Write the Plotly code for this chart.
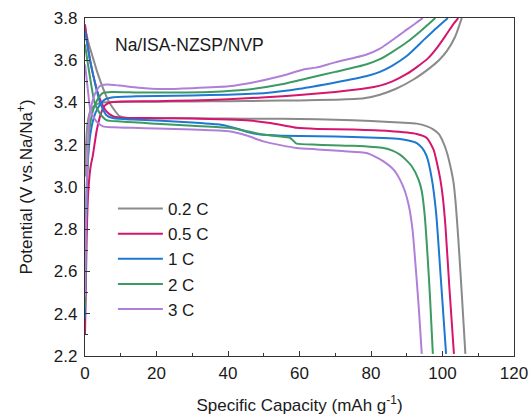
import plotly.graph_objects as go

rates = ["0.2 C", "0.5 C", "1 C", "2 C", "3 C"]
colors = ["#8a8a8a", "#d4166f", "#1e78d2", "#3d9a63", "#b080d8"]

# 0.2 C
c02_x = [0, 0.3, 0.7, 1.5, 3, 5, 8, 12, 20, 30, 40, 50, 60, 70, 78, 82.5, 87, 92, 96.5, 99, 101.2, 103.5, 105.4]
c02_y = [3.05, 3.2, 3.3, 3.36, 3.39, 3.40, 3.402, 3.403, 3.404, 3.405, 3.406, 3.408, 3.41, 3.413, 3.42, 3.437, 3.465, 3.51, 3.564, 3.60, 3.643, 3.71, 3.8]
d02_x = [0, 1, 2.25, 3.5, 5, 6.5, 7.8, 9.7, 12, 20, 30, 40, 50, 60, 70, 80, 88, 92.8, 95.5, 97.5, 99, 100.3, 101.3, 102.2, 103.1, 103.7, 104.4, 105.3, 106.4]
d02_y = [3.754, 3.68, 3.61, 3.54, 3.469, 3.41, 3.374, 3.335, 3.327, 3.326, 3.325, 3.324, 3.323, 3.322, 3.318, 3.313, 3.305, 3.30, 3.288, 3.272, 3.25, 3.208, 3.16, 3.098, 3.02, 2.92, 2.76, 2.52, 2.21]

# 0.5 C
c05_x = [0, 0.3, 0.6, 1.0, 1.6, 2.2, 3.3, 4.5, 5.5, 7, 10, 20, 30, 40, 50.6, 60, 70, 78.6, 82.5, 86, 90, 93, 96, 98.5, 101, 103, 104.4]
c05_y = [2.30, 2.6, 2.85, 3.0, 3.1, 3.15, 3.27, 3.35, 3.385, 3.40, 3.405, 3.406, 3.41, 3.415, 3.425, 3.435, 3.45, 3.467, 3.48, 3.50, 3.535, 3.57, 3.61, 3.66, 3.72, 3.77, 3.8]
d05_x = [0, 0.85, 2.25, 4.1, 6, 7.8, 10, 20, 30, 40, 46, 51.8, 56, 59.2, 65, 75, 85, 92.8, 95.6, 97.5, 98.5, 99.4, 100.1, 100.8, 101.9, 103.2]
d05_y = [3.77, 3.659, 3.532, 3.42, 3.358, 3.335, 3.328, 3.326, 3.324, 3.32, 3.315, 3.303, 3.29, 3.28, 3.275, 3.272, 3.265, 3.251, 3.232, 3.177, 3.11, 3.035, 2.95, 2.82, 2.53, 2.21]

# 1 C
c1_x = [0, 0.3, 0.6, 1.0, 1.5, 2.5, 3.6, 5.5, 8, 15, 25, 35, 45, 50.6, 60, 70, 78.6, 82.5, 86, 90, 95, 98.5, 101.5]
c1_y = [2.38, 2.8, 3.05, 3.17, 3.25, 3.33, 3.374, 3.414, 3.425, 3.43, 3.432, 3.435, 3.44, 3.445, 3.465, 3.495, 3.524, 3.545, 3.575, 3.62, 3.70, 3.755, 3.8]
d1_x = [0, 1.3, 2.7, 4.1, 6, 8, 13.4, 20, 30, 38, 40.2, 43.4, 46, 49, 55, 65, 75, 83.5, 88.1, 90.5, 92.8, 94.3, 95.6, 97, 98.2, 99.6, 101]
d1_y = [3.74, 3.61, 3.50, 3.405, 3.34, 3.325, 3.319, 3.315, 3.305, 3.295, 3.287, 3.272, 3.258, 3.248, 3.243, 3.24, 3.237, 3.232, 3.227, 3.22, 3.208, 3.185, 3.145, 3.04, 2.88, 2.55, 2.21]

# 2 C
c2_x = [0, 0.3, 0.6, 1.3, 2.2, 3.2, 5, 7.8, 15, 25, 35, 45, 54.6, 62.9, 70, 78.6, 82.5, 86, 90, 94, 98]
c2_y = [2.43, 2.85, 3.05, 3.28, 3.36, 3.405, 3.445, 3.45, 3.447, 3.447, 3.45, 3.46, 3.485, 3.517, 3.545, 3.58, 3.605, 3.64, 3.685, 3.74, 3.8]
d2_x = [0, 1.3, 2.7, 4.1, 6, 10, 20, 30, 40.2, 45, 49.9, 54, 57.4, 58.5, 59.2, 65, 75, 83.5, 86, 88.1, 90, 91.4, 93.3, 94.2, 95, 95.8, 96.5, 97.3]
d2_y = [3.675, 3.53, 3.398, 3.35, 3.317, 3.31, 3.30, 3.29, 3.28, 3.265, 3.248, 3.24, 3.232, 3.215, 3.205, 3.2, 3.195, 3.185, 3.172, 3.153, 3.125, 3.098, 3.035, 2.98, 2.87, 2.68, 2.48, 2.21]

# 3 C
c3_x = [0, 0.3, 0.6, 1.3, 2.0, 2.7, 4.1, 6, 9.7, 15, 21.8, 30, 40.2, 47, 54.6, 61.1, 64.6, 70, 78.6, 82.5, 88, 90, 92.5, 94.5]
c3_y = [2.48, 2.85, 3.1, 3.343, 3.40, 3.437, 3.477, 3.485, 3.48, 3.47, 3.464, 3.468, 3.477, 3.495, 3.524, 3.556, 3.565, 3.59, 3.626, 3.655, 3.72, 3.745, 3.775, 3.8]
d3_x = [0, 0.85, 1.55, 3.2, 5, 8, 13.4, 20, 30, 40.2, 45, 49.9, 55, 59.2, 65, 72, 78.8, 81, 83.5, 86.3, 88.1, 89.5, 90.6, 91.6, 92.6, 93.4, 94.2]
d3_y = [3.58, 3.453, 3.36, 3.31, 3.287, 3.283, 3.28, 3.277, 3.272, 3.264, 3.245, 3.216, 3.197, 3.185, 3.178, 3.17, 3.161, 3.145, 3.121, 3.082, 3.035, 2.98, 2.91, 2.80, 2.60, 2.42, 2.21]

charge = [(c02_x, c02_y), (c05_x, c05_y), (c1_x, c1_y), (c2_x, c2_y), (c3_x, c3_y)]
discharge = [(d02_x, d02_y), (d05_x, d05_y), (d1_x, d1_y), (d2_x, d2_y), (d3_x, d3_y)]

x_ticks = [0, 20, 40, 60, 80, 100, 120]
y_ticks = [2.2, 2.4, 2.6, 2.8, 3.0, 3.2, 3.4, 3.6, 3.8]

FONT = "Arial, Liberation Sans, sans-serif"

fig = go.Figure()
for i, name in enumerate(rates):
    cx, cy = charge[i]
    dx, dy = discharge[i]
    fig.add_trace(go.Scatter(x=cx, y=cy, mode="lines", name=name, legendgroup=name,
                             line=dict(color=colors[i], width=2, shape="spline", smoothing=0.6)))
    fig.add_trace(go.Scatter(x=dx, y=dy, mode="lines", name=name, legendgroup=name, showlegend=False,
                             line=dict(color=colors[i], width=2, shape="spline", smoothing=0.6)))

axis_common = dict(showline=True, linecolor="#333333", linewidth=1.2, mirror=True,
                   ticks="inside", ticklen=5, tickwidth=1.2, tickcolor="#333333",
                   showgrid=False, zeroline=False, automargin=False,
                   tickfont=dict(family=FONT, size=17, color="#1a1a1a"))

fig.update_xaxes(range=[0, 120], tickvals=x_ticks, ticktext=[str(v) for v in x_ticks],
                 minor=dict(ticks="inside", ticklen=3, dtick=10, tick0=0, tickcolor="#333333"),
                 title=dict(text="Specific Capacity (mAh g<sup>-1</sup>)",
                            font=dict(family=FONT, size=17, color="#1a1a1a"), standoff=17),
                 ticklabelstandoff=1,
                 **axis_common)
fig.update_yaxes(range=[2.2, 3.8], tickvals=y_ticks, ticktext=["%.1f" % v for v in y_ticks],
                 minor=dict(ticks="inside", ticklen=3, dtick=0.1, tick0=2.2, tickcolor="#333333"),
                 title=dict(text="Potential (V vs.Na/Na<sup>+</sup>)",
                            font=dict(family=FONT, size=17, color="#1a1a1a"), standoff=16),
                 ticklabelstandoff=3,
                 **axis_common)

fig.add_annotation(x=0.066, y=0.92, xref="paper", yref="paper", xanchor="left", yanchor="middle",
                   text="Na/ISA-NZSP/NVP", showarrow=False,
                   font=dict(family=FONT, size=17.5, color="#1a1a1a"))

fig.update_layout(
    width=532, height=419,
    margin=dict(l=85, r=18, t=18, b=63),
    paper_bgcolor="white", plot_bgcolor="white",
    showlegend=True,
    legend=dict(x=0.065, y=0.488, xanchor="left", yanchor="top", bgcolor="rgba(0,0,0,0)",
                font=dict(family=FONT, size=17, color="#1a1a1a"), itemwidth=45,
                tracegroupgap=0),
)

fig.write_html("out.html")
